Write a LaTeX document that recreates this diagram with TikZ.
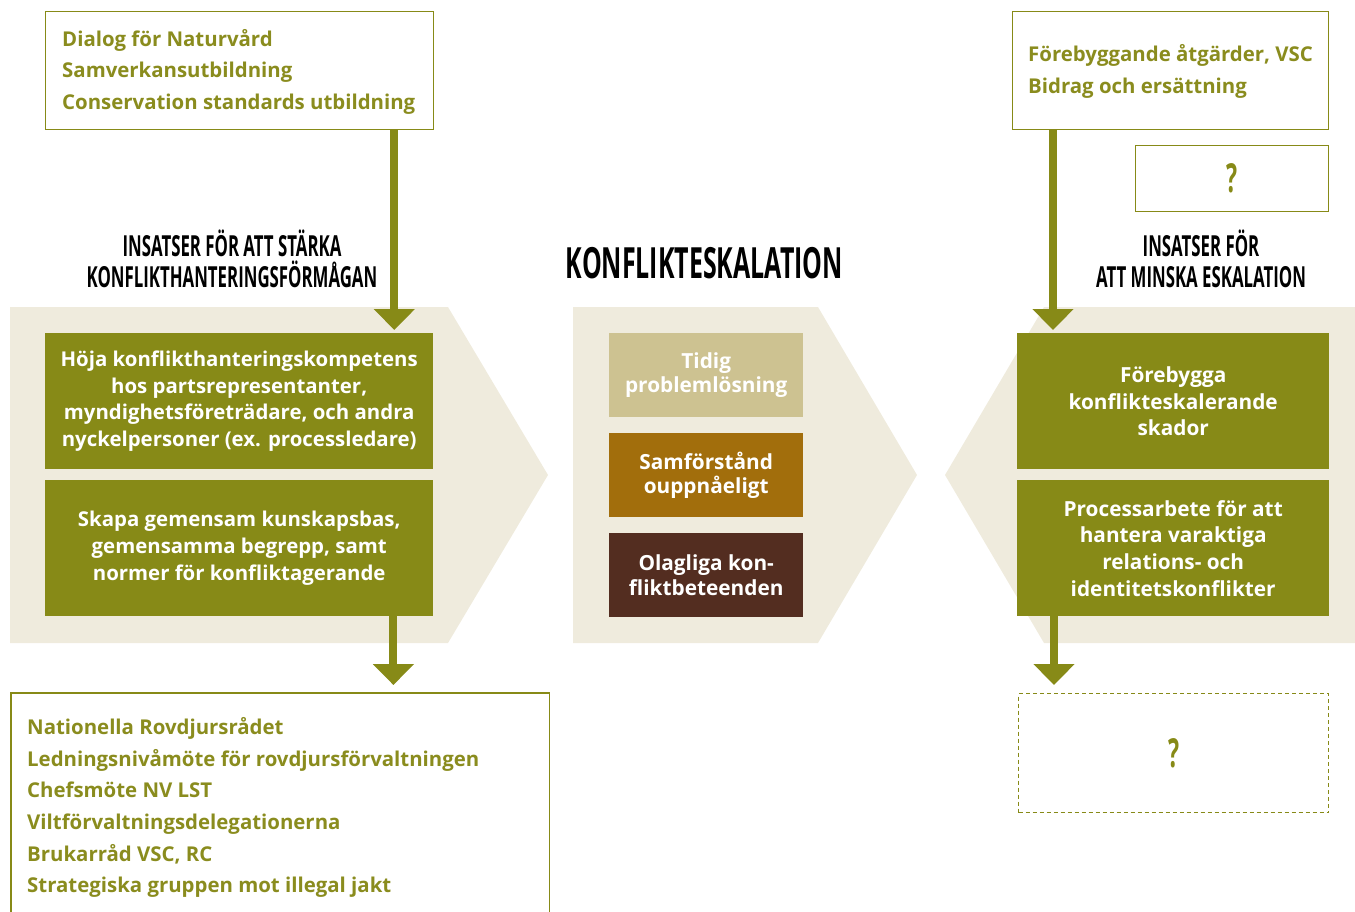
\documentclass[tikz,border=0pt]{standalone}
\usepackage{fontspec}
\setmainfont{Open Sans}
\newfontfamily\bodyfont{Open Sans}
\newfontfamily\headfont[FakeStretch=0.58]{Open Sans}
\usetikzlibrary{arrows.meta}
\definecolor{olv}{HTML}{878A17}
\definecolor{olvtext}{HTML}{8A8C1E}
\definecolor{beige}{HTML}{EFEBDD}
\definecolor{tan}{HTML}{CDC291}
\definecolor{ochre}{HTML}{A26E0C}
\definecolor{darkbr}{HTML}{532D20}
\begin{document}
\begin{tikzpicture}[x=1pt,y=-1pt,
  frame/.style={draw=olv, line width=1.3pt, inner sep=0pt, anchor=north west},
  listtext/.style={align=left, text=olvtext, inner sep=0pt, anchor=west,
    font=\bodyfont\bfseries\fontsize{20.4}{31.6}\selectfont},
  gbox/.style={fill=olv, text=white, align=center, inner sep=0pt, minimum width=388pt, minimum height=136pt,
    anchor=north west, font=\bodyfont\bfseries\fontsize{20.4}{26.7}\selectfont},
  rbox/.style={gbox, minimum width=312pt, font=\bodyfont\bfseries\fontsize{20.8}{26.7}\selectfont},
  mbox/.style={text=white, align=center, inner sep=0pt, minimum width=194pt, minimum height=84pt,
    anchor=north west, font=\bodyfont\bfseries\fontsize{20.8}{24.5}\selectfont},
  head/.style={align=center, text=black, inner sep=0pt},
  qmark/.style={text=olv, inner sep=0pt, font=\headfont\bfseries\fontsize{40}{40}\selectfont},
  arr/.style={draw=olv, line width=8pt, -{Triangle[width=40pt,length=21pt]}}
]
\path[use as bounding box] (0,0) rectangle (1355,912);

% chevrons
\fill[beige] (10,307) -- (448,307) -- (548,475) -- (448,643) -- (10,643) -- cycle;
\fill[beige] (573,307) -- (818,307) -- (917,475) -- (818,643) -- (573,643) -- cycle;
\fill[beige] (1355,307) -- (1044,307) -- (945,475) -- (1044,643) -- (1355,643) -- cycle;

% headings
\node[head, font=\headfont\bfseries\fontsize{29}{31}\selectfont] (h1) at (232,259)
  {INSATSER FÖR ATT STÄRKA\\KONFLIKTHANTERINGSFÖRMÅGAN};
\node[head, font=\headfont\bfseries\fontsize{43}{43}\selectfont] (h2) at (704.5,263) {KONFLIKTESKALATION};
\node[head, font=\headfont\bfseries\fontsize{29}{31}\selectfont] (h3) at (1201,259)
  {INSATSER FÖR\\ATT MINSKA ESKALATION};

% top boxes
\node[frame, minimum width=388pt, minimum height=118pt] (tl) at (45,11) {};
\node[listtext] (tlt) at ([xshift=17pt,yshift=-1pt]tl.west)
  {Dialog för Naturvård\\Samverkansutbildning\\Conservation standards utbildning};
\node[frame, minimum width=316pt, minimum height=118pt] (tr) at (1012,11) {};
\node[listtext] (trt) at ([xshift=16pt,yshift=-1pt]tr.west)
  {Förebyggande åtgärder, VSC\\Bidrag och ersättning};
\node[frame, minimum width=193pt, minimum height=66pt] (q1) at (1135,145) {};
\node[qmark] (q1t) at (q1.center) {?};

% left green boxes
\node[gbox] (lb1) at (45,333)
  {Höja konflikthanteringskompetens\\hos partsrepresentanter,\\myndighetsföreträdare, och andra\\nyckelpersoner (ex. processledare)};
\node[gbox] (lb2) at (45,480)
  {Skapa gemensam kunskapsbas,\\gemensamma begrepp, samt\\normer för konfliktagerande};

% middle boxes
\node[mbox, fill=tan] (m1) at (609,333) {Tidig\\problemlösning};
\node[mbox, fill=ochre] (m2) at (609,433) {Samförstånd\\ouppnåeligt};
\node[mbox, fill=darkbr] (m3) at (609,533) {Olagliga kon-\\fliktbeteenden};

% right green boxes
\node[rbox] (rb1) at (1017,333) {Förebygga\\konflikteskalerande\\skador};
\node[rbox] (rb2) at (1017,480) {Processarbete för att\\hantera varaktiga\\relations- och\\identitetskonflikter};

% bottom boxes
\node[frame, draw=none, minimum width=537pt, minimum height=226pt] (bl) at (11,693) {};
\draw[olv, line width=1.3pt] (bl.south west) -- (bl.north west) -- (bl.north east) -- (bl.south east);
\node[listtext] (blt) at ([xshift=16pt,yshift=-1pt]bl.west)
  {Nationella Rovdjursrådet\\Ledningsnivåmöte för rovdjursförvaltningen\\Chefsmöte NV LST\\Viltförvaltningsdelegationerna\\Brukarråd VSC, RC\\Strategiska gruppen mot illegal jakt};

\node[frame, line width=1.2pt, dash pattern=on 4pt off 3pt, minimum width=310pt, minimum height=119pt] (db) at (1018,693) {};
\node[qmark] (q2t) at (db.center) {?};

% arrows
\coordinate (a1s) at ([xshift=-40pt]tl.south east);
\draw[arr, shorten >=3pt] (a1s) -- (a1s |- lb1.north);
\coordinate (a2s) at ([xshift=-40pt]lb2.south east);
\draw[arr, shorten >=8pt] (a2s) -- (a2s |- bl.north);
\coordinate (a3s) at ([xshift=41pt]tr.south west);
\draw[arr, shorten >=3pt] (a3s) -- (a3s |- rb1.north);
\coordinate (a4s) at ([xshift=37pt]rb2.south west);
\draw[arr, shorten >=8pt] (a4s) -- (a4s |- db.north);
\end{tikzpicture}
\end{document}
